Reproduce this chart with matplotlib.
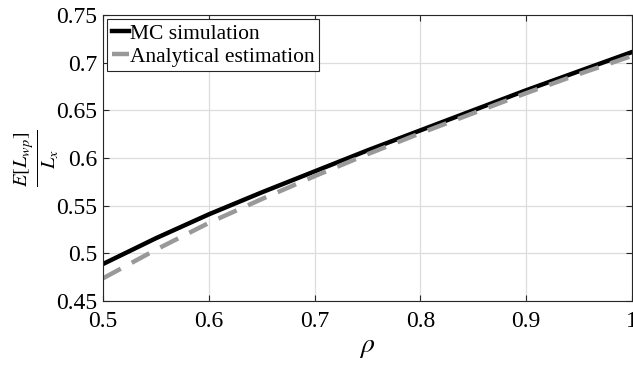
import matplotlib
matplotlib.use("Agg")
import matplotlib.pyplot as plt

plt.rcParams["font.family"] = ["Liberation Serif", "DejaVu Serif"]
plt.rcParams["mathtext.fontset"] = "stix"

rho = [0.5, 0.55, 0.6, 0.65, 0.7, 0.75, 0.8, 0.85, 0.9, 0.95, 1.0]
mc_sim = [0.489, 0.516, 0.541, 0.564, 0.586, 0.608, 0.629, 0.650, 0.671, 0.691, 0.711]
analytical = [0.474, 0.504, 0.532, 0.557, 0.581, 0.604, 0.626, 0.647, 0.668, 0.688, 0.707]

fig = plt.figure(figsize=(6.33, 3.65), dpi=100)
ax = fig.add_axes([0.163, 0.175, 0.835, 0.784])

ax.plot(rho, mc_sim, color="black", lw=3.2, label="MC simulation")
ax.plot(rho, analytical, color="#999999", lw=3.2, ls=(0, (4.5, 2.8)),
        label="Analytical estimation")

ax.set_xlim(0.5, 1.0)
ax.set_ylim(0.45, 0.75)
ax.set_xticks([0.5, 0.6, 0.7, 0.8, 0.9, 1.0])
ax.set_xticklabels(["0.5", "0.6", "0.7", "0.8", "0.9", "1"])
ax.set_yticks([0.45, 0.5, 0.55, 0.6, 0.65, 0.7, 0.75])
ax.set_yticklabels(["0.45", "0.5", "0.55", "0.6", "0.65", "0.7", "0.75"])
ax.tick_params(direction="in", labelsize=17, top=True, right=True,
               color="#262626", length=4, pad=4)
ax.tick_params(axis="x", pad=7)
for s in ax.spines.values():
    s.set_color("#262626")
    s.set_linewidth(0.8)
ax.grid(True, color="#dddddd", lw=0.9)
ax.set_axisbelow(True)

ax.set_xlabel(r"$\rho$", fontsize=20, labelpad=2)
ax.set_ylabel(r"$\frac{E[L_{wp}]}{L_x}$", fontsize=21, labelpad=-3)

leg = ax.legend(loc="upper left", fontsize=15.5, handlelength=0.8,
                handletextpad=0.05, borderpad=0.2, borderaxespad=0.2,
                labelspacing=0.15, fancybox=False, framealpha=1)
leg.get_frame().set_edgecolor("#262626")
leg.get_frame().set_linewidth(0.8)

plt.savefig("out.png", dpi=100)
plt.close()
